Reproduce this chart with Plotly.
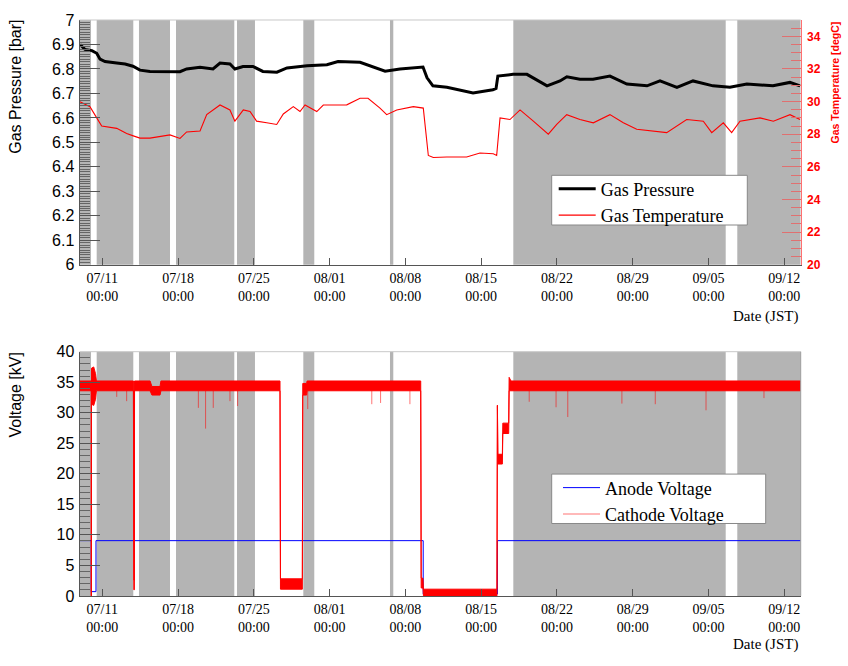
import numpy as np
import pandas as pd
import plotly.graph_objects as go

# ---------------- data ----------------
pressure_time = ["2023-07-08 22:30", "2023-07-09 09:30", "2023-07-10 01:00", "2023-07-10 11:40",
                 "2023-07-10 19:00", "2023-07-11 06:00", "2023-07-12 08:00", "2023-07-13 02:30",
                 "2023-07-13 20:00", "2023-07-14 11:30", "2023-07-15 09:40", "2023-07-16 19:00",
                 "2023-07-18 04:20", "2023-07-18 19:00", "2023-07-20 00:40", "2023-07-21 05:30",
                 "2023-07-21 21:00", "2023-07-22 19:00", "2023-07-23 06:00", "2023-07-24 00:00",
                 "2023-07-24 22:00", "2023-07-25 20:00", "2023-07-27 03:00", "2023-07-28 01:30",
                 "2023-07-28 15:00", "2023-07-29 22:00", "2023-07-31 18:00", "2023-08-01 18:40",
                 "2023-08-03 19:30", "2023-08-04 17:30", "2023-08-06 03:00", "2023-08-07 12:00",
                 "2023-08-09 15:00", "2023-08-10 00:00", "2023-08-10 13:00", "2023-08-11 20:00",
                 "2023-08-14 06:00", "2023-08-16 02:00", "2023-08-16 09:00", "2023-08-16 13:00",
                 "2023-08-17 22:30", "2023-08-19 05:30", "2023-08-21 02:00", "2023-08-22 06:45",
                 "2023-08-22 22:00", "2023-08-24 03:00", "2023-08-25 08:00", "2023-08-26 21:30",
                 "2023-08-28 11:00", "2023-08-30 07:40", "2023-08-31 12:30", "2023-09-02 02:00",
                 "2023-09-03 13:40", "2023-09-05 10:00", "2023-09-06 23:30", "2023-09-08 13:00",
                 "2023-09-10 23:00", "2023-09-12 12:30", "2023-09-13 11:00"]
pressure_bar = [6.900, 6.880, 6.875, 6.864, 6.840, 6.830, 6.824, 6.820, 6.811, 6.795, 6.790, 6.790,
                6.789, 6.800, 6.807, 6.800, 6.824, 6.820, 6.800, 6.810, 6.810, 6.790, 6.787, 6.804,
                6.807, 6.813, 6.817, 6.830, 6.827, 6.813, 6.791, 6.800, 6.808, 6.764, 6.731, 6.725,
                6.702, 6.715, 6.720, 6.771, 6.778, 6.778, 6.731, 6.751, 6.768, 6.758, 6.758, 6.771,
                6.738, 6.731, 6.751, 6.725, 6.751, 6.731, 6.725, 6.738, 6.731, 6.745, 6.731]

temp_time = ["2023-07-08 22:30", "2023-07-09 20:40", "2023-07-10 11:40", "2023-07-10 22:40",
             "2023-07-12 08:00", "2023-07-13 06:00", "2023-07-13 20:40", "2023-07-14 11:30",
             "2023-07-15 09:40", "2023-07-16 08:00", "2023-07-17 06:00", "2023-07-18 04:20",
             "2023-07-18 19:00", "2023-07-20 00:40", "2023-07-20 15:30", "2023-07-21 21:00",
             "2023-07-22 19:00", "2023-07-23 06:00", "2023-07-24 00:40", "2023-07-24 15:30",
             "2023-07-25 06:00", "2023-07-26 04:30", "2023-07-27 02:40", "2023-07-27 17:20",
             "2023-07-28 15:30", "2023-07-29 06:20", "2023-07-29 17:30", "2023-07-30 19:30",
             "2023-07-31 10:00", "2023-08-02 14:00", "2023-08-03 19:30", "2023-08-04 13:10",
             "2023-08-05 15:40", "2023-08-06 06:30", "2023-08-07 04:50", "2023-08-08 17:30",
             "2023-08-09 15:40", "2023-08-10 02:50", "2023-08-10 13:50", "2023-08-11 19:40",
             "2023-08-13 15:50", "2023-08-14 21:20", "2023-08-16 02:50", "2023-08-16 10:20",
             "2023-08-16 17:50", "2023-08-17 15:50", "2023-08-18 14:10", "2023-08-19 19:40",
             "2023-08-21 04:50", "2023-08-21 23:30", "2023-08-22 21:40", "2023-08-24 03:00",
             "2023-08-25 08:40", "2023-08-26 21:30", "2023-08-28 03:10", "2023-08-29 08:50",
             "2023-08-30 14:20", "2023-09-01 03:20", "2023-09-02 23:40", "2023-09-04 12:30",
             "2023-09-05 07:10", "2023-09-06 08:50", "2023-09-07 03:20", "2023-09-07 21:50",
             "2023-09-09 18:10", "2023-09-10 23:45", "2023-09-12 12:40", "2023-09-13 10:50"]
temp_degc = [29.99, 29.69, 29.00, 28.50, 28.36, 28.04, 27.90, 27.76, 27.76, 27.84, 27.96, 27.74,
             28.14, 28.20, 29.20, 29.79, 29.49, 28.80, 29.49, 29.40, 28.80, 28.70, 28.60, 29.24,
             29.69, 29.39, 29.79, 29.39, 29.79, 29.80, 30.20, 30.20, 29.60, 29.20, 29.49, 29.69,
             29.60, 26.70, 26.57, 26.60, 26.60, 26.85, 26.80, 26.70, 29.00, 28.90, 29.49, 28.80,
             28.00, 28.60, 29.20, 28.90, 28.70, 29.20, 28.70, 28.30, 28.20, 28.10, 28.90, 28.80,
             28.10, 28.70, 28.10, 28.80, 29.00, 28.80, 29.20, 28.90]

anode_time = ["2023-07-08 21:30", "2023-07-09 23:30", "2023-07-10 10:00", "2023-08-09 15:30",
              "2023-08-16 12:00", "2023-09-13 12:30"]
anode_kv = [9.05, 0.7, 9.05, 0.3, 9.05, 9.05]

cathode_time = ["2023-07-08 21:30", "2023-07-09 23:40", "2023-07-09 23:50", "2023-07-10 00:00",
                "2023-07-10 05:00", "2023-07-10 09:00", "2023-07-10 11:00", "2023-07-13 21:00",
                "2023-07-13 22:00", "2023-07-13 23:00", "2023-07-13 23:30", "2023-07-15 10:00",
                "2023-07-15 14:00", "2023-07-16 08:00", "2023-07-16 10:00", "2023-07-27 10:00",
                "2023-07-27 11:00", "2023-07-29 11:30", "2023-07-29 12:30", "2023-07-29 21:00",
                "2023-07-29 22:00", "2023-08-09 10:00", "2023-08-09 11:00", "2023-08-09 15:00",
                "2023-08-09 16:00", "2023-08-16 11:00", "2023-08-16 12:00", "2023-08-16 13:00",
                "2023-08-16 23:00", "2023-08-17 00:00", "2023-08-17 13:00", "2023-08-17 14:00",
                "2023-08-17 18:00", "2023-09-13 12:30"]
cathode_lo = [33.6, 33.6, 0.0, 31.4, 31.2, 32.2, 33.6, 33.6, 1.0, 1.0, 33.6, 33.6,
              32.9, 32.9, 33.6, 33.6, 1.1, 1.1, 32.9, 32.9, 33.6, 33.6, 1.3, 1.3,
              0.0, 0.0, 31.2, 21.6, 21.6, 26.6, 26.6, 33.6, 33.6, 33.6]
cathode_hi = [35.2, 35.2, 0.0, 37.3, 37.5, 36.4, 35.2, 35.2, 2.6, 2.6, 35.2, 35.2,
              34.3, 34.3, 35.2, 35.2, 2.8, 2.8, 34.8, 34.8, 35.2, 35.2, 2.9, 2.9,
              1.1, 1.1, 31.2, 23.2, 23.2, 28.3, 28.3, 35.8, 35.2, 35.2]

spike_time = ["2023-07-12 08:00", "2023-07-13 06:00", "2023-07-19 21:00", "2023-07-20 13:00",
              "2023-07-21 06:00", "2023-07-22 19:00", "2023-07-23 12:00", "2023-07-29 23:30",
              "2023-08-04 21:30", "2023-08-05 17:00", "2023-08-08 10:00", "2023-08-19 10:30",
              "2023-08-21 22:00", "2023-08-23 00:00", "2023-08-28 00:00", "2023-08-31 02:00",
              "2023-09-04 18:30", "2023-09-10 03:00"]
spike_kv = [32.6, 31.9, 30.8, 27.4, 30.8, 31.9, 31.1, 30.6, 31.4, 31.6, 31.4, 31.8,
            30.9, 29.3, 31.5, 31.4, 30.4, 32.4]

shade_start = ["2023-07-08 21:28", "2023-07-10 11:35", "2023-07-14 09:20", "2023-07-17 19:25",
               "2023-07-23 10:40", "2023-07-29 13:40", "2023-08-06 13:50", "2023-08-17 23:15",
               "2023-09-07 15:50"]
shade_end = ["2023-07-09 23:00", "2023-07-13 20:45", "2023-07-17 06:05", "2023-07-23 04:40",
             "2023-07-25 02:30", "2023-07-30 14:00", "2023-08-06 21:10", "2023-09-06 14:10",
             "2023-09-13 12:25"]

x_range = ["2023-07-08 21:28", "2023-09-13 12:25"]
tick_start = "2023-07-11 00:00"

# ---------------- figure ----------------
W, H = 848, 666
XDOM = [79.5 / W, 800.7 / W]
YDOM_TOP = [(H - 263.5) / H, (H - 12.3) / H]
YDOM_BOT = [(H - 603.3) / H, (H - 352.7) / H]

SANS = "Liberation Sans, Arial, sans-serif"
SERIF = "Liberation Serif, Times New Roman, serif"
WEEK = 7 * 24 * 3600 * 1000

fig = go.Figure()

fig.add_trace(go.Scatter(x=pressure_time, y=pressure_bar, mode="lines", name="Gas Pressure",
                         line=dict(color="black", width=3), xaxis="x", yaxis="y",
                         legend="legend"))
fig.add_trace(go.Scatter(x=temp_time, y=temp_degc, mode="lines", name="Gas Temperature",
                         line=dict(color="#ff0000", width=1.1), xaxis="x", yaxis="y2",
                         legend="legend"))

fig.add_trace(go.Scatter(x=anode_time, y=anode_kv, mode="lines", name="Anode Voltage",
                         line=dict(color="#0000ff", width=1, shape="hv"), xaxis="x2", yaxis="y3",
                         legend="legend2"))
fig.add_trace(go.Scatter(x=cathode_time, y=cathode_lo, mode="lines", showlegend=False,
                         line=dict(color="#ff0000", width=1), xaxis="x2", yaxis="y3"))
fig.add_trace(go.Scatter(x=cathode_time, y=cathode_hi, mode="lines", showlegend=False,
                         line=dict(color="#ff0000", width=1), fill="tonexty", fillcolor="#ff0000",
                         xaxis="x2", yaxis="y3"))

ct = pd.to_datetime(cathode_time).astype("int64").to_numpy()
st = pd.to_datetime(spike_time).astype("int64").to_numpy()
base = np.interp(st, ct, np.array(cathode_lo))
sx, sy = [], []
for t, b, v in zip(spike_time, base, spike_kv):
    sx += [t, t, None]
    sy += [b, v, None]
fig.add_trace(go.Scatter(x=sx, y=sy, mode="lines", name="Cathode Voltage",
                         line=dict(color="rgba(255,0,0,0.55)", width=1), xaxis="x2", yaxis="y3",
                         legend="legend2"))

shapes = []
for s, e in zip(shade_start, shade_end):
    for xr, yr in (("x", "y domain"), ("x2", "y3 domain")):
        shapes.append(dict(type="rect", xref=xr, yref=yr, x0=s, x1=e, y0=0, y1=1,
                           fillcolor="#b4b4b4", line=dict(width=0), layer="below"))
# frame lines
shapes.append(dict(type="line", xref="x domain", yref="y domain", x0=0, x1=1, y0=1, y1=1,
                   line=dict(color="#c8c8c8", width=1)))
shapes.append(dict(type="line", xref="x2 domain", yref="y3 domain", x0=0, x1=1, y0=1, y1=1,
                   line=dict(color="#c8c8c8", width=1)))
shapes.append(dict(type="line", xref="x2 domain", yref="y3 domain", x0=1, x1=1, y0=0, y1=1,
                   line=dict(color="#9a9a9a", width=1)))
# legend boxes
shapes.append(dict(type="rect", xref="paper", yref="paper", x0=551.7 / W, x1=747.3 / W,
                   y0=(H - 222.7) / H, y1=(H - 171.7) / H, fillcolor="white",
                   line=dict(color="#888888", width=1), layer="above"))
shapes.append(dict(type="rect", xref="paper", yref="paper", x0=551.7 / W, x1=765.7 / W,
                   y0=(H - 529) / H, y1=(H - 478.3) / H, fillcolor="white",
                   line=dict(color="#888888", width=1), layer="above"))

main_x = dict(type="date", range=x_range, domain=XDOM, tick0=tick_start, dtick=WEEK,
              showgrid=False, zeroline=False, showline=True, linecolor="#555555", linewidth=1,
              ticks="inside", ticklen=7, tickcolor="#555555", tickformat="%m/%d<br>%H:%M",
              tickfont=dict(family=SERIF, size=14, color="black"), ticklabelstandoff=0)

left_y = dict(showgrid=False, zeroline=False, showline=True, linecolor="#555555", linewidth=1,
              ticks="inside", ticklen=20, tickcolor="#555555",
              tickfont=dict(family=SANS, size=16, color="black"), ticklabelstandoff=1)

legend_common = dict(xanchor="left", yanchor="top", bgcolor="rgba(0,0,0,0)", borderwidth=0,
                     itemwidth=37, traceorder="normal",
                     font=dict(family=SERIF, size=18, color="black"))

fig.update_layout(
    width=W, height=H, margin=dict(l=0, r=0, t=0, b=0),
    paper_bgcolor="white", plot_bgcolor="white",
    xaxis=dict(main_x, anchor="y"),
    xaxis2=dict(main_x, anchor="y3"),
    yaxis=dict(left_y, domain=YDOM_TOP, anchor="x", range=[6, 7], dtick=0.1, tick0=6,
               minor=dict(ticks="inside", ticklen=10, dtick=0.01, tickcolor="#666666")),
    yaxis2=dict(overlaying="y", anchor="x", side="right", range=[20, 35], tick0=20, dtick=2,
                showgrid=False, zeroline=False, showline=True, linecolor="#ff7070", linewidth=1,
                ticks="inside", ticklen=19, tickcolor="#e07070",
                minor=dict(ticks="inside", ticklen=10, dtick=0.5, tickcolor="#e07070"),
                tickfont=dict(family=SANS, size=12, color="#ff0000", weight="bold"),
                ticklabelstandoff=3),
    yaxis3=dict(left_y, domain=YDOM_BOT, anchor="x2", range=[0, 40], dtick=5, tick0=0,
                minor=dict(ticks="inside", ticklen=10, dtick=1, tickcolor="#666666")),
    legend=dict(legend_common, x=553.7 / W, y=(H - 166.8) / H),
    legend2=dict(legend_common, x=558 / W, y=(H - 473.5) / H),
    shapes=shapes,
    showlegend=True,
)

ann = [
    dict(text="Gas Pressure [bar]", x=16 / W, y=(H - 10) / H, textangle=-90,
         font=dict(family=SANS, size=16, color="black")),
    dict(text="Voltage [kV]", x=16 / W, y=(H - 352) / H, textangle=-90,
         font=dict(family=SANS, size=16, color="black")),
    dict(text="Gas Temperature [degC]", x=835 / W, y=(H - 11.7) / H, textangle=-90,
         font=dict(family=SANS, size=10.5, color="#ff0000", weight="bold")),
]
for a in ann:
    fig.add_annotation(xref="paper", yref="paper", xanchor="center", yanchor="top",
                       showarrow=False, **a)
for yc in (317, 653):
    fig.add_annotation(text="Date (JST)", xref="paper", yref="paper", x=800 / W, y=(H - yc) / H,
                       xanchor="right", yanchor="middle", showarrow=False,
                       font=dict(family=SERIF, size=15, color="black"))

fig.write_html("out.html")
